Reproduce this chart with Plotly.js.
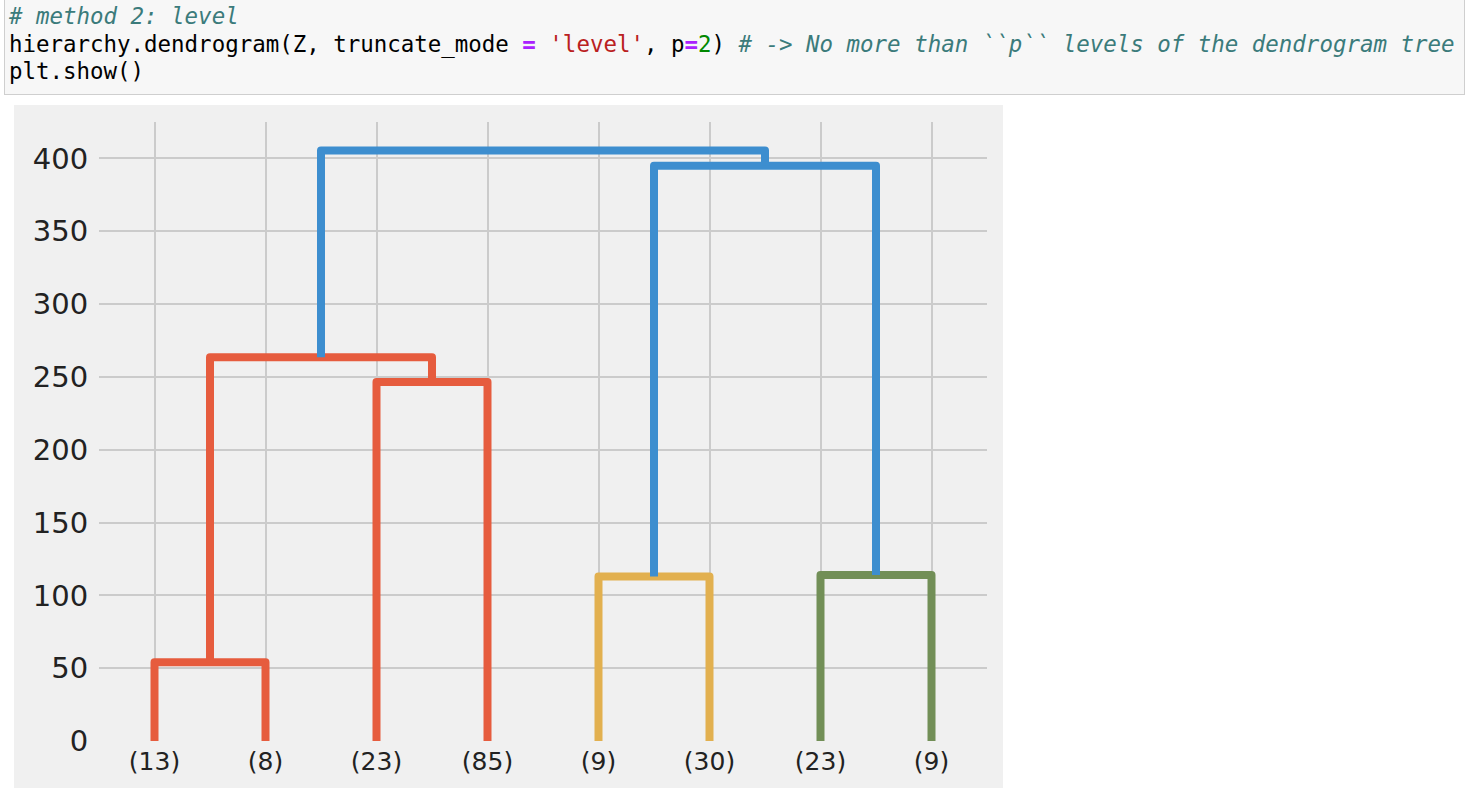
<!DOCTYPE html>
<html>
<head>
<meta charset="utf-8">
<script src="https://cdn.plot.ly/plotly-3.0.1.min.js"></script>
<style>
  html, body { margin: 0; padding: 0; background: #ffffff; width: 1466px; height: 806px; overflow: hidden; }
  #cell {
    position: absolute; left: 4px; top: -2px; width: 1461px; height: 97px;
    background: #f7f7f7; border: 1px solid #cfcfcf; box-sizing: border-box;
  }
  #code {
    position: absolute; left: 9px; top: 3px; margin: 0;
    font-family: "DejaVu Sans Mono", monospace; font-size: 22.44px; line-height: 27.5px;
    color: #000; white-space: pre;
  }
  .c { color: #3b7b7b; font-style: italic; }
  .o { color: #aa22ff; font-weight: bold; }
  .s { color: #ba2121; }
  .n { color: #008800; }
  #chart { position: absolute; left: 14px; top: 105px; width: 989px; height: 683px; }
  #chart .js-line { stroke-linejoin: round; }
</style>
</head>
<body>
<div id="cell"></div>
<pre id="code"><span class="c"># method 2: level</span>
hierarchy.dendrogram(Z, truncate_mode <span class="o">=</span> <span class="s">'level'</span>, p<span class="o">=</span><span class="n">2</span>) <span class="c"># -&gt; No more than ``p`` levels of the dendrogram tree</span>
plt.show()</pre>
<div id="chart"></div>
<script>
// Leaf cluster sizes (tick labels), left to right
const leafLabels = ["(13)", "(8)", "(23)", "(85)", "(9)", "(30)", "(23)", "(9)"];
// Merges: children are leaf indices (numbers) or merge names (strings)
const mergeNames   = ["A", "B", "C", "D", "E", "F", "G"];
const mergeLeft    = [0, 2, "A", 4, 6, "D", "C"];
const mergeRight   = [1, 3, "B", 5, 7, "E", "F"];
const mergeHeights = [54, 246.5, 263.5, 113, 114, 395, 405.5];
const mergeColors  = ["#e65c3e", "#e65c3e", "#e65c3e", "#e2b04f", "#728f57", "#3d8ecf", "#3d8ecf"];
const yTicks = [0, 50, 100, 150, 200, 250, 300, 350, 400];

// scipy dendrogram convention: leaf i sits at 10*i + 5
const leafPos = leafLabels.map((_, i) => 10 * i + 5);
const pos = {}, hgt = {};
const traces = [];
function childXY(c) {
  if (typeof c === "number") return [leafPos[c], 0];
  return [pos[c], hgt[c]];
}
mergeNames.forEach((name, k) => {
  const [xl, yl] = childXY(mergeLeft[k]);
  const [xr, yr] = childXY(mergeRight[k]);
  const h = mergeHeights[k];
  pos[name] = (xl + xr) / 2;
  hgt[name] = h;
  traces.push({
    type: "scatter", mode: "lines",
    x: [xl, xl, xr, xr], y: [yl, h, h, yr],
    line: { color: mergeColors[k], width: 8 },
    hoverinfo: "skip", showlegend: false
  });
});

const layout = {
  width: 989, height: 683,
  margin: { l: 85, r: 16, t: 17, b: 47, pad: 0 },
  paper_bgcolor: "#f0f0f0", plot_bgcolor: "#f0f0f0",
  font: { family: "DejaVu Sans, sans-serif", color: "#222" },
  xaxis: {
    range: [0, 10 * leafLabels.length], tickmode: "array",
    tickvals: leafPos, ticktext: leafLabels,
    showgrid: true, gridcolor: "#cbcbcb", gridwidth: 2,
    zeroline: false, showline: false,
    ticks: "", ticklabelstandoff: 3,
    tickfont: { size: 25, color: "#222" }
  },
  yaxis: {
    range: [0, 425], tickmode: "array", tickvals: yTicks,
    showgrid: true, gridcolor: "#cbcbcb", gridwidth: 2,
    zeroline: true, zerolinecolor: "#f0f0f0", zerolinewidth: 2, showline: false,
    ticks: "outside", ticklen: 4, tickcolor: "rgba(0,0,0,0)",
    tickfont: { size: 29, color: "#222" }
  }
};
Plotly.newPlot("chart", traces, layout, { staticPlot: true, displayModeBar: false });
</script>
</body>
</html>
